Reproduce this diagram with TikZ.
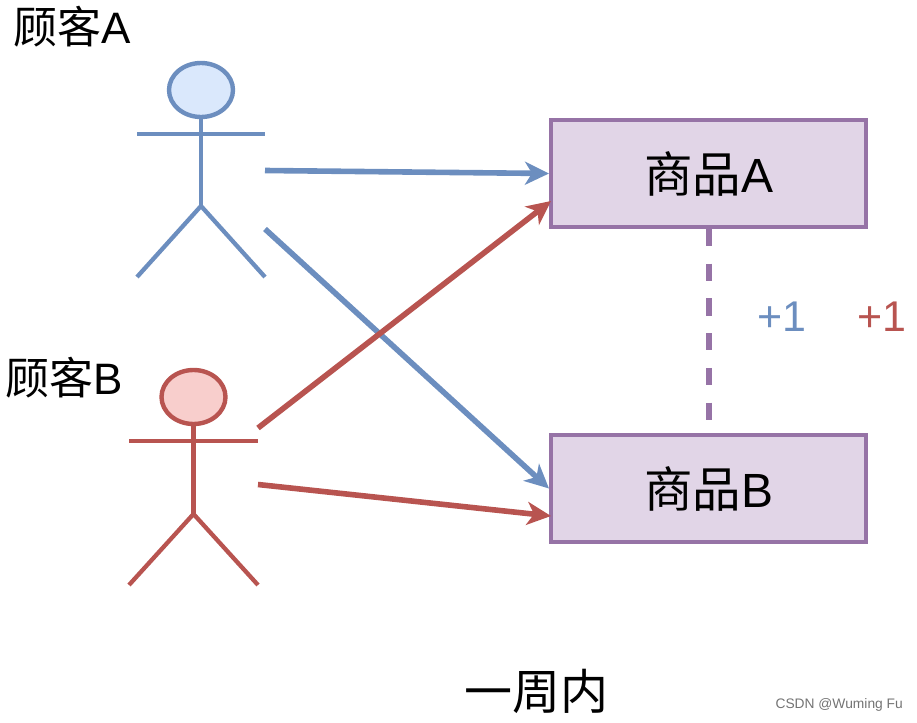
\documentclass[tikz,border=0pt]{standalone}
\usepackage{fontspec}
\setmainfont{Liberation Sans}
\newfontfamily\cjk{Noto Sans CJK SC}
\usetikzlibrary{arrows.meta,shapes.geometric}
\definecolor{bl}{HTML}{6C8EBF}
\definecolor{blf}{HTML}{DAE8FC}
\definecolor{rd}{HTML}{B85450}
\definecolor{rdf}{HTML}{F8CECC}
\definecolor{pu}{HTML}{9673A6}
\definecolor{puf}{HTML}{E1D5E7}
\tikzset{x=1pt,y=-1pt,
 actorline/.style={line width=4.3pt},
 conn/.style={line width=5.6pt,-{Stealth[length=24pt,width=23pt,inset=7pt]}},
 box/.style={draw=pu,fill=puf,line width=4pt,minimum width=315pt,minimum height=107pt,inner sep=0pt,font=\fontsize{48}{48}\selectfont},
 lab/.style={font=\fontsize{44}{44}\selectfont,inner sep=0pt},
 plus/.style={font=\fontsize{43}{43}\selectfont,inner sep=0pt},
 wm/.style={font=\fontsize{13.8}{15}\selectfont,inner sep=0pt,text=black!55}}
\begin{document}
\begin{tikzpicture}
\useasboundingbox (0,0) rectangle (917,722);
% actor A
\begin{scope}[bl,actorline]
\node[draw=bl,fill=blf,line width=4.4pt,ellipse,minimum width=64pt,minimum height=54pt,inner sep=0pt] (ha) at (201,90) {};
\coordinate (na) at (201,206);
\coordinate (aL) at (137,134); \coordinate (aR) at (265,134);
\coordinate (fLa) at (137,277); \coordinate (fRa) at (265,277);
\draw (ha.south) -- (na);
\draw (aL) -- (aR);
\draw (fLa) -- (na) -- (fRa);
\end{scope}
% actor B
\begin{scope}[rd,actorline]
\node[draw=rd,fill=rdf,line width=4.4pt,ellipse,minimum width=64pt,minimum height=54pt,inner sep=0pt] (hb) at (193.5,397) {};
\coordinate (nb) at (193.5,514);
\coordinate (bL) at (129,441); \coordinate (bR) at (258,441);
\coordinate (fLb) at (129,585); \coordinate (fRb) at (258,585);
\draw (hb.south) -- (nb);
\draw (bL) -- (bR);
\draw (fLb) -- (nb) -- (fRb);
\end{scope}
\node[box] (pa) at (708.5,173.5) {{\cjk\fontsize{48.5}{48}\selectfont 商品}A};
\node[box] (pb) at (708.5,488.5) {{\cjk\fontsize{48.5}{48}\selectfont 商品}B};
\draw[pu,line width=6pt,dash pattern=on 17.3pt off 17.4pt] (pa.south) -- (pb.north);
\coordinate (a1) at (265,170.5); \coordinate (a2) at (265,229);
\coordinate (b1) at (258,428); \coordinate (b2) at (258,484.5);
\draw[conn,bl] (a1) -- (pa.west);
\draw[conn,bl] (a2) -- (pb.west);
\draw[conn,rd] (b1) -- (551,201);
\draw[conn,rd] (b2) -- (551,516);
\node[lab] (ta) at (72,27) {{\cjk 顾客}A};
\node[lab] (tb) at (64.5,378) {{\cjk 顾客}B};
\node[plus,text=bl] (p1) at (782,317) {+1};
\node[plus,text=rd] (p2) at (882,317) {+1};
\node[font=\cjk\fontsize{48}{48}\selectfont,inner sep=0pt] (wk) at (536,691) {一周内};
\node[wm,anchor=east] (w) at (903,705) {CSDN @Wuming Fu};
\end{tikzpicture}
\end{document}
